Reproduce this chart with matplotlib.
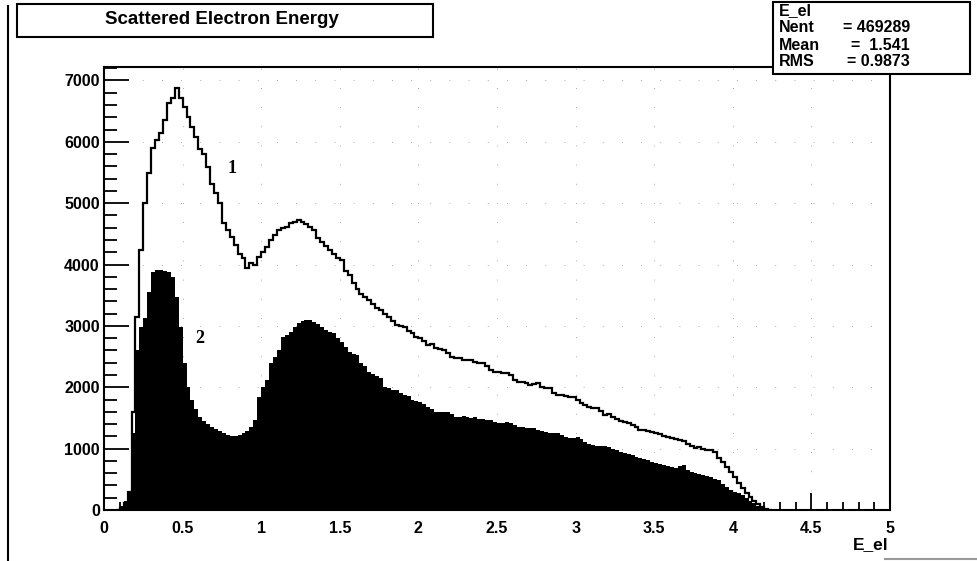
import numpy as np
import matplotlib
matplotlib.use("Agg")
import matplotlib.pyplot as plt
from matplotlib.patches import Rectangle
from matplotlib.lines import Line2D
from matplotlib.ticker import MultipleLocator

# Histogram binning: first filled bin starts at E_START, fixed bin width
E_START = 0.075
BIN_W = 0.025

# Curve 1: all scattered electrons (counts per bin)
counts_all = [
    0, 30, 120, 300, 1600, 3140, 4230, 5000,            # 0.075 - 0.250
    5500, 5900, 6030, 6150, 6350, 6630, 6710, 6870,     # 0.275 - 0.450
    6710, 6560, 6400, 6240, 6075, 5890, 5810, 5590,     # 0.475 - 0.650
    5320, 5160, 5000, 4670, 4560, 4450, 4320, 4180,     # 0.675 - 0.850
    4100, 3940, 4020, 4000, 4120, 4200, 4280, 4400,     # 0.875 - 1.050
    4480, 4560, 4590, 4610, 4670, 4690, 4720, 4700,     # 1.075 - 1.250
    4660, 4610, 4560, 4430, 4360, 4300, 4230, 4180,     # 1.275 - 1.450
    4100, 4070, 3900, 3830, 3700, 3600, 3520, 3470,     # 1.475 - 1.650
    3420, 3350, 3300, 3260, 3200, 3140, 3080, 3010,     # 1.675 - 1.850
    3000, 2980, 2920, 2880, 2820, 2800, 2750, 2690,     # 1.875 - 2.050
    2700, 2640, 2620, 2610, 2560, 2490, 2480, 2475,     # 2.075 - 2.250
    2450, 2440, 2440, 2420, 2390, 2390, 2350, 2280,     # 2.275 - 2.450
    2250, 2250, 2230, 2230, 2200, 2120, 2080, 2090,     # 2.475 - 2.650
    2070, 2040, 2060, 2070, 2000, 1990, 1990, 1900,     # 2.675 - 2.850
    1870, 1870, 1850, 1840, 1840, 1800, 1750, 1710,     # 2.875 - 3.050
    1680, 1660, 1660, 1620, 1550, 1560, 1510, 1480,     # 3.075 - 3.250
    1450, 1430, 1420, 1380, 1350, 1300, 1310, 1280,     # 3.275 - 3.450
    1270, 1250, 1240, 1200, 1190, 1170, 1150, 1140,     # 3.475 - 3.650
    1120, 1080, 1040, 1010, 1020, 990, 980, 980,        # 3.675 - 3.850
    940, 850, 780, 700, 620, 540, 440, 360,             # 3.875 - 4.050
    280, 210, 150, 100, 50, 20, 5,                      # 4.075 - 4.225
]

# Curve 2: selected subsample (filled)
counts_sel = [
    20, 60, 150, 280, 1250, 2600, 2980, 3130,           # 0.075 - 0.250
    3550, 3880, 3910, 3910, 3900, 3880, 3800, 3470,     # 0.275 - 0.450
    2980, 2390, 2000, 1800, 1640, 1520, 1450, 1400,     # 0.475 - 0.650
    1350, 1320, 1280, 1250, 1230, 1210, 1200, 1220,     # 0.675 - 0.850
    1250, 1280, 1350, 1470, 1840, 2000, 2120, 2390,     # 0.875 - 1.050
    2490, 2600, 2820, 2860, 2900, 2980, 3050, 3080,     # 1.075 - 1.250
    3100, 3100, 3070, 3030, 2980, 2940, 2900, 2880,     # 1.275 - 1.450
    2800, 2740, 2650, 2570, 2540, 2520, 2400, 2350,     # 1.475 - 1.650
    2250, 2220, 2180, 2150, 2000, 1990, 1960, 1950,     # 1.675 - 1.850
    1900, 1870, 1850, 1800, 1780, 1760, 1720, 1680,     # 1.875 - 2.050
    1650, 1600, 1600, 1600, 1590, 1560, 1515, 1515,     # 2.075 - 2.250
    1530, 1515, 1500, 1515, 1490, 1480, 1470, 1460,     # 2.275 - 2.450
    1440, 1420, 1410, 1430, 1420, 1380, 1350, 1350,     # 2.475 - 2.650
    1340, 1340, 1330, 1300, 1290, 1270, 1260, 1250,     # 2.675 - 2.850
    1250, 1220, 1190, 1170, 1180, 1190, 1150, 1110,     # 2.875 - 3.050
    1080, 1060, 1050, 1040, 1040, 1030, 1000, 970,      # 3.075 - 3.250
    950, 930, 910, 890, 870, 850, 830, 810,             # 3.275 - 3.450
    790, 765, 750, 730, 720, 700, 690, 720,             # 3.475 - 3.650
    730, 650, 620, 600, 590, 570, 560, 530,             # 3.675 - 3.850
    510, 490, 430, 375, 330, 300, 280, 240,             # 3.875 - 4.050
    195, 150, 110, 60, 25, 8, 0,                        # 4.075 - 4.225
]

x_ticks = [0, 0.5, 1, 1.5, 2, 2.5, 3, 3.5, 4, 4.5, 5]
x_tick_labels = ["0", "0.5", "1", "1.5", "2", "2.5", "3", "3.5", "4", "4.5", "5"]
y_ticks = [0, 1000, 2000, 3000, 4000, 5000, 6000, 7000]
y_tick_labels = ["0", "1000", "2000", "3000", "4000", "5000", "6000", "7000"]

title = "Scattered Electron Energy"
x_title = "E_el"
stats_name = "E_el"
stats_rows = [("Nent", "= 469289"), ("Mean", "=  1.541"), ("RMS", "= 0.9873")]

edges = E_START + BIN_W * np.arange(len(counts_all) + 1)

W, H = 977, 561
plt.rcParams["font.family"] = ["Liberation Sans", "DejaVu Sans"]
fig = plt.figure(figsize=(W / 100, H / 100), dpi=100)


def fx(px):
    return px / W


def fy(py):
    return 1 - py / H


ax = fig.add_axes([fx(104), fy(510), fx(890) - fx(104), fy(67) - fy(510)])
ax.stairs(counts_sel, edges, fill=True, color="black", lw=0)
ax.stairs(counts_all, edges, color="black", lw=1.6)

ax.set_xlim(0, 5)
ax.set_ylim(0, 7220)
ax.set_xticks(x_ticks, x_tick_labels)
ax.set_yticks(y_ticks, y_tick_labels)
ax.xaxis.set_minor_locator(MultipleLocator(0.1))
ax.yaxis.set_minor_locator(MultipleLocator(200))
ax.tick_params(axis="both", which="both", direction="in", top=False, right=False,
               width=1.3, labelsize=11.5)
ax.tick_params(axis="y", which="major", length=18, pad=3)
ax.tick_params(axis="y", which="minor", length=9)
ax.tick_params(axis="x", which="major", length=12, pad=8)
ax.tick_params(axis="x", which="minor", length=6)
for lab in ax.get_xticklabels() + ax.get_yticklabels():
    lab.set_fontweight("bold")
for sp in ax.spines.values():
    sp.set_linewidth(1.5)
ax.grid(True, which="major", ls=(0, (1, 22)), color="black", lw=0.6, alpha=0.45)
ax.set_axisbelow(False)

ax.text(0.815, 5570, "1", family="Liberation Serif", weight="bold", fontsize=13,
        ha="center", va="center")
ax.text(0.61, 2800, "2", family="Liberation Serif", weight="bold", fontsize=13,
        ha="center", va="center")

fig.text(fx(888), fy(545), x_title, ha="right", va="center", fontsize=12.5,
         fontweight="bold")

# Title box
fig.patches.append(Rectangle((fx(17), fy(37)), fx(433) - fx(17), fy(4) - fy(37),
                             transform=fig.transFigure, fill=False, lw=1.5,
                             ec="black"))
fig.text(fx(222), fy(20), title, ha="center", va="center", fontsize=13.5,
         fontweight="bold")

# Statistics box
fig.patches.append(Rectangle((fx(773), fy(74)), fx(970) - fx(773), fy(2) - fy(74),
                             transform=fig.transFigure, fc="white", lw=1.5,
                             ec="black", zorder=5))
fig.text(fx(779), fy(11), stats_name, ha="left", va="center", fontsize=11.5,
         fontweight="bold", zorder=6)
for i, (name, val) in enumerate(stats_rows):
    yy = fy(28 + 17 * i)
    fig.text(fx(779), yy, name, ha="left", va="center", fontsize=11.5,
             fontweight="bold", zorder=6)
    fig.text(fx(910), yy, val, ha="right", va="center", fontsize=11.5,
             fontweight="bold", zorder=6)

# Canvas border fragments
fig.add_artist(Line2D([fx(8), fx(8)], [fy(6), fy(561)], color="black", lw=1.5))
fig.add_artist(Line2D([fx(885), fx(977)], [fy(559), fy(559)], color="0.6", lw=1.5))

fig.savefig("out.png", dpi=100)
